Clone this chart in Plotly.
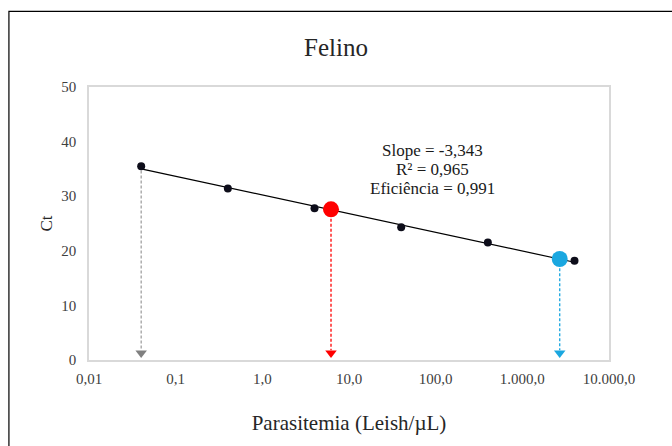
import numpy as np
import plotly.graph_objects as go

# Standard curve data
conc = [0.04, 0.4, 4, 40, 400, 4000]
ct = [35.5, 31.4, 27.8, 24.3, 21.5, 18.2]

# Samples projected on the curve
sample_x = [6.2, 2700]
sample_y = [27.6, 18.5]
sample_colors = ["#ff0000", "#1aa7e0"]

# Detection limit arrow (first standard)
limit_x = [0.04]
limit_y = [35.5]

xtick_vals = [0.01, 0.1, 1, 10, 100, 1000, 10000]
xtick_text = ["0,01", "0,1", "1,0", "10,0", "100,0", "1.000,0", "10.000,0"]
ytick_vals = [0, 10, 20, 30, 40, 50]

stats_lines = ["Slope = -3,343", "R² = 0,965", "Eficiência = 0,991"]

FONT = "Liberation Serif, Times New Roman, serif"

fig = go.Figure()

# Dashed drop lines with arrow heads
arrow_y = 1.3
drops = [(limit_x[0], limit_y[0], "#a0a0a0", "#808080")] + [
    (sx, sy, c, c) for sx, sy, c in zip(sample_x, sample_y, sample_colors)
]
for dx, dy, c, hc in drops:
    fig.add_trace(go.Scatter(
        x=[dx, dx], y=[dy - 0.8, arrow_y + 0.5], mode="lines",
        line=dict(color=c, width=1.3, dash="3px,2px"),
        showlegend=False, hoverinfo="skip"))
    fig.add_trace(go.Scatter(
        x=[dx], y=[arrow_y], mode="markers",
        marker=dict(symbol="triangle-down", size=10, color=hc),
        showlegend=False, hoverinfo="skip"))

# Trend line (log-linear fit)
lx = np.log10(conc)
m, b = np.polyfit(lx, ct, 1)
fig.add_trace(go.Scatter(
    x=[conc[0], conc[-1]], y=[m * lx[0] + b, m * lx[-1] + b], mode="lines",
    line=dict(color="#000000", width=1.2), showlegend=False))

# Standards
fig.add_trace(go.Scatter(
    x=conc, y=ct, mode="markers",
    marker=dict(color="#0d0d1a", size=8), showlegend=False))

# Samples
fig.add_trace(go.Scatter(
    x=sample_x, y=sample_y, mode="markers",
    marker=dict(color=sample_colors, size=16), showlegend=False))

for txt, yp in zip(stats_lines, [0.766, 0.697, 0.628]):
    fig.add_annotation(
        x=0.66, y=yp, xref="paper", yref="paper", text=txt,
        showarrow=False, align="center", xanchor="center", yanchor="middle",
        font=dict(family=FONT, size=17, color="#1a1a1a"))

# Outer black frame (extends beyond the canvas on right/bottom)
fig.add_shape(type="rect", xref="paper", yref="paper",
              x0=-0.154, x1=1.6, y0=-0.4, y1=1.277,
              line=dict(color="#000000", width=1.2), layer="below")

fig.update_layout(
    width=672, height=446,
    margin=dict(l=89, r=63, t=87, b=86, autoexpand=False),
    paper_bgcolor="white", plot_bgcolor="white",
    font=dict(family=FONT, color="#262626"),
    title=dict(text="Felino", x=0.5, xanchor="center", y=0.895, yanchor="middle",
               font=dict(family=FONT, size=25, color="#262626")),
    xaxis=dict(type="log", range=[-2, 4], tickvals=xtick_vals, ticktext=xtick_text,
               showgrid=False, zeroline=False, showline=True, mirror=True,
               linecolor="#d9d9d9", linewidth=1.5, ticks="", automargin=False,
               ticklabelstandoff=4,
               tickfont=dict(family=FONT, size=15, color="#404040"),
               title=dict(text="Parasitemia (Leish/µL)", standoff=30,
                          font=dict(family=FONT, size=21, color="#262626"))),
    yaxis=dict(range=[0, 50], tickvals=ytick_vals,
               showgrid=False, zeroline=False, showline=True, mirror=True,
               linecolor="#d9d9d9", linewidth=1.5, ticks="", automargin=False,
               ticklabelstandoff=8,
               tickfont=dict(family=FONT, size=15, color="#404040"),
               title=dict(text="Ct", standoff=4,
                          font=dict(family=FONT, size=17, color="#262626"))),
)

fig.write_html("out.html", config={"displayModeBar": False})

# Remove the browser's default body margin so the figure sits at the page origin
with open("out.html", "r", encoding="utf-8") as f:
    html = f.read()
html = html.replace("<body>", '<body style="margin:0;padding:0;overflow:hidden">', 1)
with open("out.html", "w", encoding="utf-8") as f:
    f.write(html)
